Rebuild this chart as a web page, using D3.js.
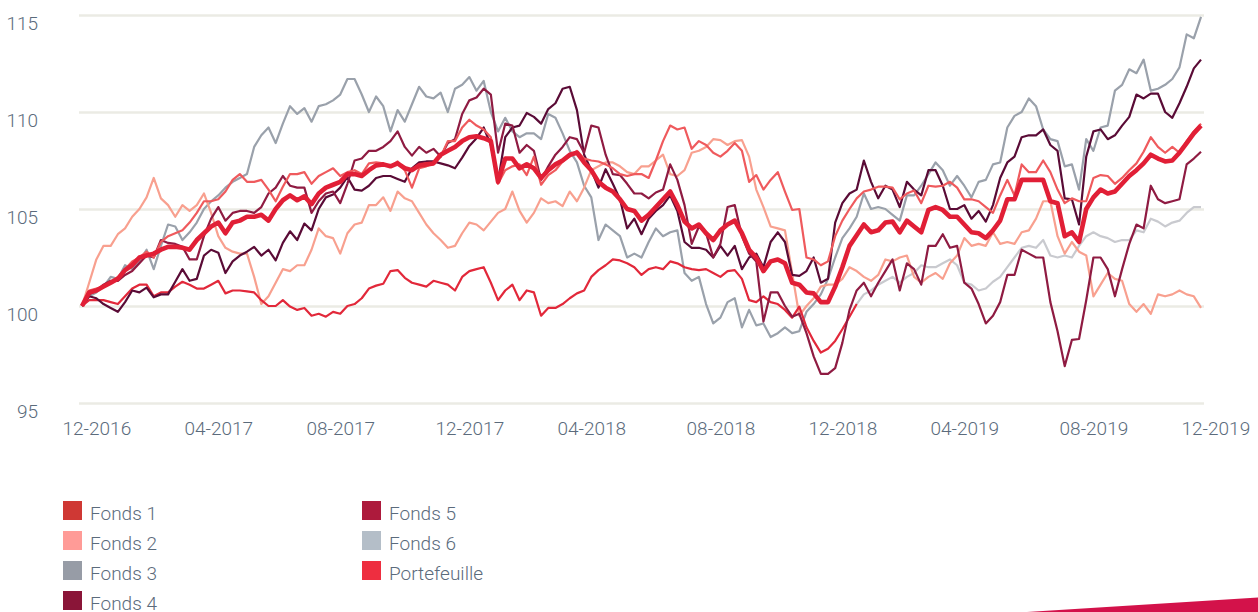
<!DOCTYPE html>
<html>
<head>
<meta charset="utf-8">
<script src="https://cdn.jsdelivr.net/npm/d3@7"></script>
<style>
  body { margin: 0; background: #fff; }
  text { font-family: Roboto, "Open Sans", sans-serif; font-weight: 300; fill: #5b6b7c; }
</style>
</head>
<body>
<svg id="chart" width="1258" height="612"></svg>
<script>
'use strict';

// weekly closes (Tuesdays), base 100
const firstDay = '2016-11-22';
const tickDays = ['2016-12-06', '2017-04-04', '2017-08-01', '2017-12-05', '2018-04-03',
  '2018-08-07', '2018-12-04', '2019-04-02', '2019-08-06', '2019-12-03'];
const yTicks = [95, 100, 105, 110, 115];

const fonds1 = [100, 100.3, 100.3, 100.3, 100.2, 100.1, 100.5, 100.9, 101.1, 101.1,
  100.5, 100.7, 100.7, 101.0, 101.25, 101.1, 100.9, 100.9, 101.1, 101.3,
  100.65, 100.8, 100.8, 100.75, 100.7, 100.3, 100.0, 100.0, 100.3, 99.97,
  99.8, 99.9, 99.5, 99.6, 99.45, 99.7, 99.6, 100.0, 100.1, 100.4,
  100.9, 101.05, 101.15, 101.8, 101.85, 101.45, 101.2, 101.1, 101.0, 101.3,
  101.2, 101.1, 100.8, 101.5, 101.8, 101.9, 102.0, 101.2, 100.3, 100.8,
  101.1, 100.3, 100.8, 100.7, 99.5, 99.9, 99.9, 100.1, 100.4, 100.65,
  100.8, 101.5, 101.85, 102.1, 102.4, 102.35, 102.2, 102.0, 101.6, 101.9,
  102.0, 101.9, 102.3, 102.2, 102.0, 101.9, 101.85, 101.9, 101.7, 101.5,
  101.8, 101.85, 101.4, 100.3, 100.2, 100.5, 100.2, 100.1, 99.8, 99.4,
  99.97, 98.9, 98.2, 97.6, 97.8, 98.2, 98.8, 99.45, 100.1];

const fonds2 = [100, 101.2, 102.4, 103.1, 103.1, 103.7, 104.0, 104.6, 105.0, 105.6,
  106.6, 105.55, 105.2, 104.6, 105.2, 104.9, 105.2, 105.8, 104.8, 103.6,
  103.0, 102.8, 102.7, 102.7, 101.5, 100.1, 100.5, 101.2, 101.9, 101.8,
  102.1, 102.1, 102.9, 104.0, 103.6, 103.5, 102.7, 103.75, 104.2, 104.3,
  105.2, 105.2, 105.6, 104.9, 105.9, 105.55, 105.4, 104.8, 104.2, 103.75,
  103.4, 103.0, 103.1, 103.75, 104.3, 104.2, 103.9, 104.35, 104.8, 105.0,
  105.9, 104.9, 104.3, 104.8, 105.55, 105.3, 105.4, 105.15, 105.9, 105.4,
  106.1, 107.0, 107.2, 107.4, 107.4, 107.2, 106.9, 106.8, 107.2, 107.2,
  107.5, 107.8, 106.8, 106.7, 107.0, 107.9, 108.0, 108.2, 108.6, 108.55,
  108.3, 108.5, 108.55, 107.7, 106.0, 105.1, 104.1, 104.0, 103.9, 101.7,
  99.5, 100.0, 100.4, 101.0, 101.1, 101.1, 101.4, 102.0, 101.8, 101.5,
  101.3, 101.6, 102.4, 102.3, 102.5, 102.6, 101.5, 101.2, 101.5, 101.7,
  101.4, 102.2, 102.6, 103.5, 103.1, 103.2, 103.1, 103.8, 103.2, 103.3,
  103.2, 103.8, 103.9, 104.5, 105.4, 105.4, 103.6, 102.7, 103.3, 102.8,
  102.6, 100.5, 101.1, 101.7, 101.4, 101.3, 100.1, 99.7, 100.1, 99.6,
  100.6, 100.5, 100.6, 100.8, 100.6, 100.5, 99.9];

const fonds3 = [100.0, 100.5, 100.7, 101.0, 101.5, 101.4, 102.1, 101.9, 102.3, 102.9,
  101.9, 103.1, 104.2, 104.1, 103.4, 103.8, 104.3, 105.0, 105.4, 105.7,
  106.1, 106.4, 106.6, 106.8, 108.2, 108.8, 109.2, 108.4, 109.4, 110.3,
  109.9, 110.2, 109.5, 110.3, 110.4, 110.6, 110.9, 111.7, 111.7, 110.9,
  110.0, 110.8, 110.3, 109.0, 110.1, 109.5, 110.4, 111.3, 110.8, 110.7,
  111.0, 110.0, 111.2, 111.4, 111.8, 111.1, 111.6, 110.0, 109.0, 109.7,
  109.0, 108.7, 108.9, 108.9, 108.6, 109.9, 109.7, 108.9, 108.0, 107.4,
  106.2, 105.6, 103.4, 104.2, 103.9, 103.6, 102.5, 102.7, 102.5, 103.3,
  104.0, 103.6, 103.8, 103.9, 101.7, 101.3, 101.5, 100.1, 99.1, 99.4,
  100.2, 100.4, 98.9, 99.8, 99.0, 99.1, 98.4, 98.6, 98.9, 98.6,
  98.7, 99.7, 100.1, 100.6, 101.4, 102.5, 103.5, 104.0, 104.6, 105.8,
  105.0, 105.1, 105.0, 104.7, 104.4, 105.7, 105.7, 106.2, 106.8, 107.4,
  107.0, 106.2, 106.7, 106.2, 105.6, 106.4, 106.5, 107.3, 107.4, 109.2,
  109.8, 110.0, 110.7, 110.3, 109.1, 108.6, 108.5, 107.2, 107.3, 106.0,
  108.6, 108.0, 109.2, 109.3, 111.1, 111.4, 112.2, 112.0, 112.7, 111.1,
  111.2, 111.4, 111.7, 112.3, 114.0, 113.8, 114.9];

const fonds4 = [100, 100.5, 100.4, 100.1, 99.9, 99.7, 100.2, 100.8, 100.7, 100.95,
  100.45, 100.6, 100.6, 101.25, 101.9, 101.3, 101.4, 102.6, 102.9, 102.75,
  101.7, 102.3, 102.6, 102.8, 103.05, 102.6, 102.9, 102.35, 103.25, 103.85,
  103.4, 104.25, 103.9, 105.0, 105.6, 105.75, 106.1, 106.65, 106.0, 105.95,
  106.2, 106.6, 106.7, 106.7, 106.55, 106.4, 107.1, 107.4, 107.45, 107.45,
  107.35, 107.25, 107.1, 107.65, 108.25, 108.65, 109.2, 108.3, 106.4, 108.7,
  109.2, 109.3, 109.95, 109.75, 109.4, 110.15, 110.45, 111.2, 111.3, 110.1,
  107.8, 107.0, 106.1, 107.05, 106.3, 105.5, 104.0, 104.5, 103.7, 104.5,
  104.9, 105.2, 105.7, 104.9, 103.3, 103.0, 103.0, 102.9, 102.5, 103.1,
  102.6, 103.1, 101.9, 102.5, 102.7, 102.0, 103.3, 103.8, 103.3, 101.6,
  101.55, 101.8, 102.5, 101.2, 101.4, 104.3, 105.3, 105.8, 106.0, 107.5,
  106.4, 105.55, 106.2, 106.0, 105.1, 106.4, 106.0, 105.7, 107.0, 107.0,
  106.2, 105.0, 105.0, 105.2, 104.5, 104.9, 104.35, 105.2, 106.6, 107.4,
  107.7, 108.7, 108.8, 108.8, 109.1, 108.3, 108.0, 105.55, 105.5, 104.2,
  107.7, 109.0, 109.1, 108.6, 108.8, 109.3, 109.75, 110.9, 110.7, 110.95,
  110.95, 110.0, 109.7, 110.45, 111.3, 112.25, 112.7];

const fonds5 = [100, 100.6, 100.8, 101.1, 101.3, 101.3, 101.6, 101.8, 102.2, 102.6,
  102.5, 103.4, 103.25, 103.2, 103.05, 102.4, 102.4, 103.6, 104.5, 105.1,
  104.4, 104.8, 104.9, 104.9, 104.8, 105.1, 105.8, 106.1, 106.7, 106.2,
  106.1, 106.1, 104.8, 105.4, 105.8, 105.9, 105.3, 106.3, 107.5, 107.6,
  108.0, 108.0, 108.2, 108.5, 109.0, 108.2, 107.75, 108.2, 107.9, 108.1,
  107.7, 108.4, 108.6, 109.9, 110.6, 110.75, 111.2, 110.9, 107.9, 109.4,
  109.3, 107.9, 108.3, 108.0, 106.5, 107.2, 107.8, 108.2, 108.7, 108.6,
  107.9, 109.3, 109.2, 107.8, 106.8, 106.75, 106.3, 105.8, 105.8, 105.55,
  105.85, 106.0, 107.3, 106.5, 105.2, 103.2, 104.1, 103.75, 102.5, 103.2,
  105.1, 105.2, 103.6, 102.7, 102.3, 99.2, 100.7, 100.7, 100.0, 99.45,
  99.6, 98.6, 97.4, 96.5, 96.5, 96.8, 98.1, 99.8, 100.8, 101.2,
  100.5, 101.2, 101.8, 102.4, 100.8, 102.2, 101.9, 101.1, 103.1, 103.1,
  103.7, 103.0, 103.1, 101.2, 100.9, 100.1, 99.1, 99.5, 100.2, 101.6,
  101.6, 102.9, 102.7, 102.5, 102.5, 100.2, 98.7, 96.9, 98.25, 98.3,
  100.3, 102.5, 102.5, 101.9, 100.5, 101.9, 103.2, 104.2, 104.0, 106.2,
  105.5, 105.3, 105.4, 105.5, 107.3, 107.6, 107.95];

// Fonds 6 only starts in week 108, where Fonds 1 stops
const fonds6Start = 108;
const fonds6 = [100.1, 100.6, 100.8, 101.1, 101.3, 101.5, 101.2, 101.5, 101.7, 102.1,
  102.0, 102.0, 102.2, 102.4, 102.1, 101.2, 101.1, 100.8, 100.9, 101.25,
  101.5, 102.0, 102.5, 103.0, 103.1, 103.0, 103.4, 102.6, 102.5, 102.6,
  102.5, 103.1, 103.6, 103.8, 103.6, 103.5, 103.3, 103.4, 103.4, 103.9,
  103.8, 104.5, 104.35, 104.1, 104.3, 104.4, 104.8, 105.1, 105.1];

// thin coral line that runs alongside the portfolio
const coral = [100, 100.8, 100.9, 101.0, 101.25, 101.5, 101.9, 102.3, 102.5, 102.8,
  102.5, 103.3, 103.6, 103.75, 103.9, 104.3, 104.8, 105.4, 105.4, 105.5,
  105.9, 106.5, 106.8, 106.4, 106.4, 106.5, 106.0, 105.4, 106.15, 106.8,
  106.8, 106.9, 106.3, 106.7, 106.9, 107.1, 106.7, 106.9, 107.0, 106.8,
  107.35, 107.4, 107.35, 107.2, 107.45, 107.0, 106.1, 107.1, 107.2, 107.35,
  107.7, 108.5, 108.5, 109.2, 109.6, 109.3, 109.1, 108.7, 106.3, 107.0,
  107.2, 107.3, 106.75, 107.7, 106.25, 106.75, 107.0, 107.45, 107.7, 108.0,
  107.6, 107.5, 107.45, 107.3, 107.1, 106.8, 106.7, 106.8, 106.8, 106.6,
  107.5, 108.5, 109.3, 109.1, 109.2, 108.1, 108.5, 108.3, 107.9, 107.7,
  108.0, 108.4, 108.0, 106.4, 106.75, 106.0, 106.5, 106.9, 105.9, 104.95,
  105.0, 102.5, 102.4, 102.1, 102.3, 103.6, 104.4, 105.0, 105.55, 105.9,
  106.0, 106.15, 106.15, 106.1, 105.5, 105.8, 105.95, 105.3, 106.2, 106.15,
  106.2, 106.4, 106.1, 105.5, 105.5, 105.4, 105.1, 104.8, 105.7, 106.5,
  105.7, 107.3, 106.9, 106.9, 107.5, 106.9, 106.0, 105.3, 105.55, 105.4,
  105.4, 106.6, 106.75, 106.7, 106.3, 106.6, 107.0, 107.35, 107.95, 108.7,
  108.2, 107.9, 108.2, 107.9, 108.5, 109.0, 109.4];

const portefeuille = [100, 100.7, 100.8, 101.0, 101.2, 101.4, 101.85, 102.1, 102.5, 102.6,
  102.7, 102.9, 103.05, 103.05, 103.0, 102.9, 103.4, 103.75, 104.1, 104.3,
  103.75, 104.3, 104.4, 104.6, 104.6, 104.7, 104.4, 105.0, 105.45, 105.7,
  105.45, 105.65, 105.25, 105.8, 106.1, 106.25, 106.4, 106.8, 106.8, 106.7,
  107.0, 107.25, 107.3, 107.2, 107.35, 107.1, 107.0, 107.25, 107.3, 107.35,
  107.8, 108.0, 108.2, 108.5, 108.7, 108.75, 108.65, 108.5, 106.4, 107.6,
  107.6, 107.1, 107.3, 107.1, 106.6, 107.0, 107.3, 107.5, 107.8, 107.9,
  107.4, 107.0, 106.4, 106.1, 105.9, 105.5, 105.0, 104.9, 104.4, 104.7,
  105.1, 105.5, 105.9, 105.2, 104.35, 104.0, 104.2, 103.75, 103.4, 103.9,
  104.2, 104.4, 103.75, 102.9, 102.5, 101.8, 102.3, 102.4, 102.2, 101.2,
  101.1, 100.7, 100.65, 100.2, 100.2, 101.0, 102.0, 103.1, 103.65, 104.2,
  103.8, 103.9, 104.3, 104.35, 103.8, 104.4, 104.1, 103.8, 104.95, 105.1,
  104.95, 104.6, 104.6, 104.2, 103.8, 103.75, 103.5, 103.9, 104.4, 105.5,
  105.5, 106.5, 106.5, 106.5, 106.5, 105.4, 105.3, 103.6, 103.8, 103.3,
  105.0, 105.6, 106.0, 105.8, 105.9, 106.3, 106.7, 107.0, 107.35, 107.8,
  107.6, 107.45, 107.5, 107.9, 108.4, 108.9, 109.3];

const legendNames = ['Fonds 1', 'Fonds 2', 'Fonds 3', 'Fonds 4', 'Fonds 5', 'Fonds 6', 'Portefeuille'];
const legendColors = ['#cf3834', '#ff9b97', '#979ca6', '#8a1538', '#ad1a3c', '#b4bec8', '#ee2e40'];

// drawing order: last one ends on top
const series = [
  { values: fonds3, start: 0, color: '#9aa1ab', width: 2.2 },
  { values: fonds6, start: fonds6Start, color: '#c9cacf', width: 2.2 },
  { values: fonds2, start: 0, color: '#f8a08f', width: 2.2 },
  { values: fonds1, start: 0, color: '#e2283a', width: 2.2 },
  { values: fonds4, start: 0, color: '#5a0b36', width: 2.2 },
  { values: fonds5, start: 0, color: '#8f1b42', width: 2.2 },
  { values: coral, start: 0, color: '#ef5a5d', width: 2.2 },
  { values: portefeuille, start: 0, color: '#e11f36', width: 4.6 },
];

const parseDay = d3.timeParse('%Y-%m-%d');
const day0 = parseDay(firstDay);
const weekDate = (i) => d3.timeDay.offset(day0, 7 * i);
const nWeeks = fonds3.length;

const svg = d3.select('#chart');

const x = d3.scaleTime()
  .domain([weekDate(0), weekDate(nWeeks - 1)])
  .range([82, 1201]);
const y = d3.scaleLinear().domain([95, 115]).range([403, 15]);

// horizontal grid + y labels
const yAxis = svg.append('g')
  .attr('transform', 'translate(79,0)')
  .call(d3.axisLeft(y).tickValues(yTicks).tickSize(-(1204 - 79)).tickPadding(41));
yAxis.select('.domain').remove();
yAxis.selectAll('line').attr('stroke', '#ebebe4').attr('stroke-width', 2.5);
yAxis.selectAll('text')
  .attr('dy', null)
  .attr('y', 14.5)
  .style('font-size', '19px')
  .style('font-family', 'Roboto, sans-serif')
  .attr('fill', '#5b6b7c');

// x labels
const xAxis = svg.append('g')
  .attr('transform', 'translate(0,403)')
  .call(d3.axisBottom(x)
    .tickValues(tickDays.map(parseDay))
    .tickFormat(d3.timeFormat('%m-%Y'))
    .tickSize(0)
    .tickPadding(18.5));
xAxis.select('.domain').remove();
xAxis.selectAll('text')
  .style('font-size', '19px')
  .style('font-family', 'Roboto, sans-serif')
  .attr('fill', '#5b6b7c');

const line = d3.line()
  .x((d) => x(d.date))
  .y((d) => y(d.value));

svg.append('g').selectAll('path')
  .data(series)
  .enter().append('path')
  .attr('fill', 'none')
  .attr('stroke', (s) => s.color)
  .attr('stroke-width', (s) => s.width)
  .attr('stroke-linejoin', 'round')
  .attr('d', (s) => line(s.values.map((v, i) => ({ date: weekDate(s.start + i), value: v }))));

// legend, two columns
const legend = svg.append('g');
const item = legend.selectAll('g')
  .data(legendNames)
  .enter().append('g')
  .attr('transform', (d, i) => i < 4
    ? `translate(63,${501 + 30 * i})`
    : `translate(362,${501 + 30 * (i - 4)})`);
item.append('rect')
  .attr('width', 19).attr('height', 19)
  .attr('fill', (d, i) => legendColors[i]);
item.append('text')
  .attr('x', 27).attr('y', 18.5)
  .style('font-size', '19px')
  .text((d) => d);

// corner ribbon
svg.append('polygon')
  .attr('points', '1027,612 1258,597.5 1258,612')
  .attr('fill', '#d3124a');
</script>
</body>
</html>
